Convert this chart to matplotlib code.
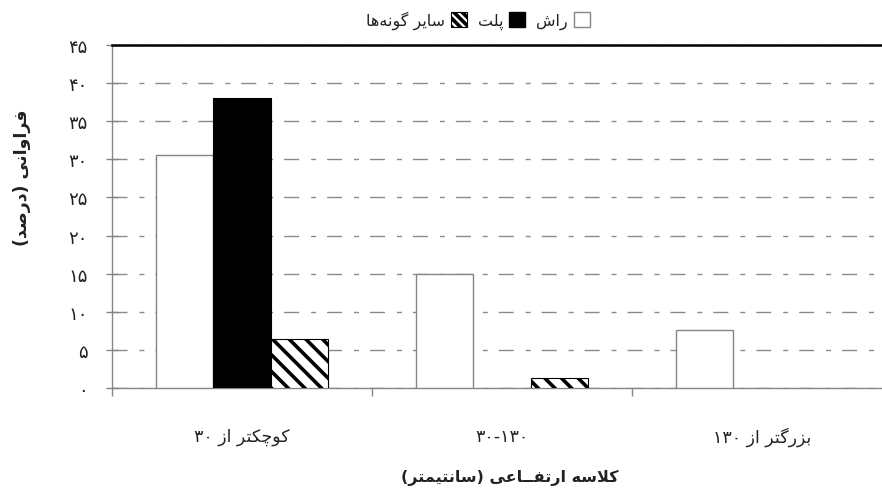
import matplotlib
matplotlib.use('Agg')
import matplotlib.pyplot as plt
import numpy as np
from matplotlib.patches import Patch

# ---------------- data ----------------
categories = ['کوچکتر از ۳۰', '۳۰-۱۳۰', 'بزرگتر از ۱۳۰']
series_names = ['راش', 'پلت', 'سایر گونه‌ها']
rash = [30.6, 15.0, 7.6]
palat = [38.0, 0.0, 0.0]
others = [6.4, 1.3, 0.0]
yticks = [0, 5, 10, 15, 20, 25, 30, 35, 40, 45]
xlabel_text = 'کلاسه ارتفــاعی (سانتیمتر)'
ylabel_text = 'فراوانی (درصد)'

# ------------- minimal Persian shaping -------------
FORMS = {  # isolated, final, initial, medial
    'ا': (0xFE8D, 0xFE8E, None, None),
    'ب': (0xFE8F, 0xFE90, 0xFE91, 0xFE92),
    'پ': (0xFB56, 0xFB57, 0xFB58, 0xFB59),
    'ت': (0xFE95, 0xFE96, 0xFE97, 0xFE98),
    'چ': (0xFB7A, 0xFB7B, 0xFB7C, 0xFB7D),
    'د': (0xFEA9, 0xFEAA, None, None),
    'ر': (0xFEAD, 0xFEAE, None, None),
    'ز': (0xFEAF, 0xFEB0, None, None),
    'س': (0xFEB1, 0xFEB2, 0xFEB3, 0xFEB4),
    'ش': (0xFEB5, 0xFEB6, 0xFEB7, 0xFEB8),
    'ص': (0xFEB9, 0xFEBA, 0xFEBB, 0xFEBC),
    'ع': (0xFEC9, 0xFECA, 0xFECB, 0xFECC),
    'ف': (0xFED1, 0xFED2, 0xFED3, 0xFED4),
    'ک': (0xFB8E, 0xFB8F, 0xFB90, 0xFB91),
    'گ': (0xFB92, 0xFB93, 0xFB94, 0xFB95),
    'ل': (0xFEDD, 0xFEDE, 0xFEDF, 0xFEE0),
    'م': (0xFEE1, 0xFEE2, 0xFEE3, 0xFEE4),
    'ن': (0xFEE5, 0xFEE6, 0xFEE7, 0xFEE8),
    'ه': (0xFEE9, 0xFEEA, 0xFEEB, 0xFEEC),
    'و': (0xFEED, 0xFEEE, None, None),
    'ی': (0xFBFC, 0xFBFD, 0xFBFE, 0xFBFF),
}
TATWEEL = 'ـ'


def dual(c):
    return c == TATWEEL or (c in FORMS and FORMS[c][2] is not None)


def joinable(c):
    return c == TATWEEL or c in FORMS


def shape_word(word):
    out = []
    i, n = 0, len(word)
    while i < n:
        c = word[i]
        prev = word[i - 1] if i > 0 else None
        nxt = word[i + 1] if i + 1 < n else None
        jp = prev is not None and dual(prev)
        if c == 'ل' and nxt == 'ا':
            out.append(chr(0xFEFC if jp else 0xFEFB))
            i += 2
            continue
        if c not in FORMS:
            if c != '\u200c':
                out.append(c)
            i += 1
            continue
        jn = dual(c) and nxt is not None and joinable(nxt)
        iso, fin, ini, med = FORMS[c]
        if jp and jn:
            g = med
        elif jp:
            g = fin
        elif jn:
            g = ini
        else:
            g = iso
        out.append(chr(g))
        i += 1
    s = ''.join(out)
    if any(ch in FORMS for ch in word):
        s = s[::-1]
        s = s.translate(str.maketrans('()', ')('))
    return s


def visual(text):
    """Right-to-left display order of a Persian phrase."""
    return ' '.join(shape_word(w) for w in text.split(' ')[::-1])


PDIG = str.maketrans('0123456789', '۰۱۲۳۴۵۶۷۸۹')

plt.rcParams['font.family'] = ['DejaVu Sans']
plt.rcParams['hatch.linewidth'] = 2.6
TXT = '#222222'
GRAY = '#858585'

fig = plt.figure(figsize=(8.82, 4.89), dpi=100)
ax = fig.add_axes([112 / 882, 100 / 489, 780 / 882, 343 / 489])

x = np.arange(len(categories))
w = 0.22
ax.bar(x - w, rash, w, facecolor='white', edgecolor=GRAY,
       lw=[1.0 if v > 0 else 0 for v in rash], zorder=3)
ax.bar(x, palat, w, facecolor='black', edgecolor='black',
       lw=[0.8 if v > 0 else 0 for v in palat], zorder=3)
ax.bar(x + w, others, w, facecolor='white', edgecolor='black', hatch='\\\\',
       lw=[0.8 if v > 0 else 0 for v in others], zorder=3)

ax.set_xlim(-0.5, 2.5)
ax.set_ylim(0, 45)
ax.set_yticks(yticks, [str(v).translate(PDIG) for v in yticks])
ax.grid(axis='y', color='#8a8a8a', lw=1.0, linestyle=(0, (10.8, 8.6, 3.6, 7.9)), zorder=1)
ax.set_axisbelow(True)

ax.set_xticks(x, [visual(c) for c in categories])
ax.set_xticks([-0.5, 0.5, 1.5, 2.5], minor=True)
ax.tick_params(axis='x', which='major', length=0, pad=28, labelsize=12.5, labelcolor=TXT)
ax.tick_params(axis='x', which='minor', length=6, direction='out', color=GRAY, width=1)
ax.tick_params(axis='y', direction='inout', length=9, color=GRAY, width=1, pad=13,
               labelsize=13, labelcolor=TXT)

for s in ('left', 'bottom'):
    ax.spines[s].set_color(GRAY)
    ax.spines[s].set_linewidth(1.0)
ax.spines['right'].set_visible(False)
ax.spines['top'].set_color('black')
ax.spines['top'].set_linewidth(1.8)

ax.set_xlabel(visual(xlabel_text), fontsize=11.5, fontweight='bold', color=TXT)
ax.xaxis.set_label_coords(0.51, -0.236)
ax.set_ylabel(visual(ylabel_text), fontsize=12.5, fontweight='bold', color=TXT)
ax.yaxis.set_label_coords(-0.104, 0.615)

handles = [
    Patch(facecolor='white', edgecolor='black', hatch='\\\\\\\\', lw=0.8),
    Patch(facecolor='black', edgecolor='black'),
    Patch(facecolor='white', edgecolor=GRAY, lw=1.0),
]
labels = [visual(series_names[2]), visual(series_names[1]), visual(series_names[0])]
fig.legend(handles, labels, loc='center', bbox_to_anchor=(0.542, 0.957), ncol=3,
           frameon=False, markerfirst=False, handlelength=1.0, handleheight=1.0,
           handletextpad=0.35, columnspacing=0.7, fontsize=11.5, labelcolor=TXT)

fig.savefig('out.png', dpi=100)
